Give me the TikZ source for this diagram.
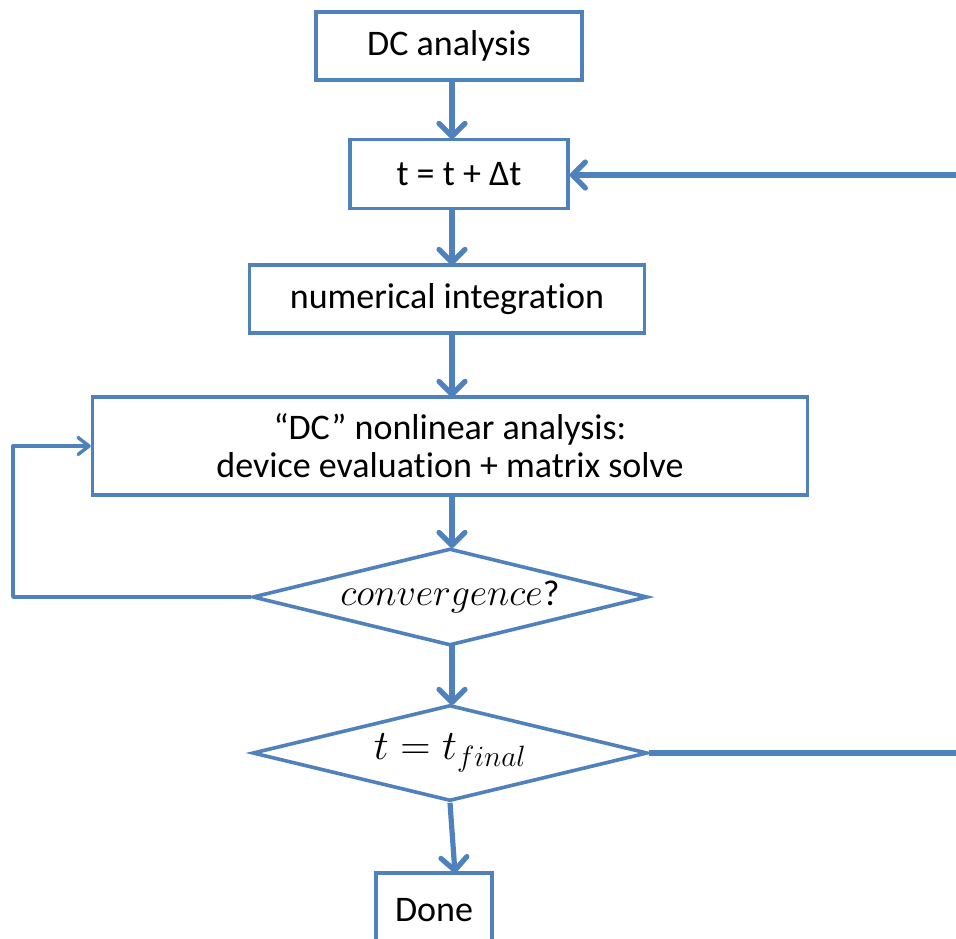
\documentclass[tikz,border=0pt]{standalone}
\usepackage{fix-cm}
\usepackage{fontspec}
\setmainfont{Carlito}[Ligatures=NoCommon]
\usetikzlibrary{arrows.meta,shapes.geometric}
\definecolor{flowblue}{HTML}{4F81BD}
\begin{document}
\begin{tikzpicture}[x=1pt,y=-1pt,
  box/.style={draw=flowblue, line width=3.5pt, fill=white, inner sep=0pt,
    font=\fontsize{36}{38}\selectfont, align=center},
  decide/.style={diamond, draw=flowblue, line width=3.6pt, fill=white,
    inner sep=0pt, aspect=4, font=\fontsize{38}{40}\selectfont},
  flow/.style={draw=flowblue, line width=5.2pt,
    -{Straight Barb[length=13pt,width=26pt,round]}},
  loopline/.style={draw=flowblue, line width=3.4pt, line join=round,
    -{Straight Barb[length=11pt,width=17pt,round]}}]
\useasboundingbox (0,0) rectangle (956,938);
\clip (0,0) rectangle (956,938);

% process steps
\node[box, minimum width=266pt, minimum height=68pt] (dc) at (449,46) {DC analysis};
\node[box, minimum width=218pt, minimum height=69pt] (step) at (459,174) {t = t + Δt};
\node[box, minimum width=395pt, minimum height=68pt] (integ) at (447,299) {numerical integration};
\node[box, minimum width=715pt, minimum height=98pt] (solve) at (450,446)
  {“DC” nonlinear analysis:\\device evaluation + matrix solve};
\node[decide, minimum width=395pt, minimum height=97pt] (conv) at (450,597)
  {$convergence$\fontsize{36}{38}\selectfont?};
\node[decide, minimum width=395pt, minimum height=96pt, font=\fontsize{42}{44}\selectfont]
  (final) at (450,753) {$t=t_{final}$};
\node[box, minimum width=116pt, minimum height=80pt] (done) at (434,913) {};
\node[font=\fontsize{36}{38}\selectfont] (donetxt) at (434,910) {Done};

% loose ends of the time-step loop
\coordinate (backin) at (960,175);
\coordinate (backout) at (960,753);
\coordinate (doneTop) at (455,873);
\coordinate (loopL) at (13,597);

% connectors
\draw[flow] (452,80) -- (452,139);
\draw[flow] (452,209) -- (452,265);
\draw[flow] (452,333) -- (452,397);
\draw[flow] (452,495) -- (452,548);
\draw[flow] (452,645) -- (452,705);
\draw[flow] (final.south) -- (doneTop);
\draw[flow] (backin) -- (step.east |- backin);
\draw[draw=flowblue, line width=5.2pt] (final.east) -- (backout);
\draw[loopline] (conv.west) -- (loopL) |- (solve.west);
\end{tikzpicture}
\end{document}
